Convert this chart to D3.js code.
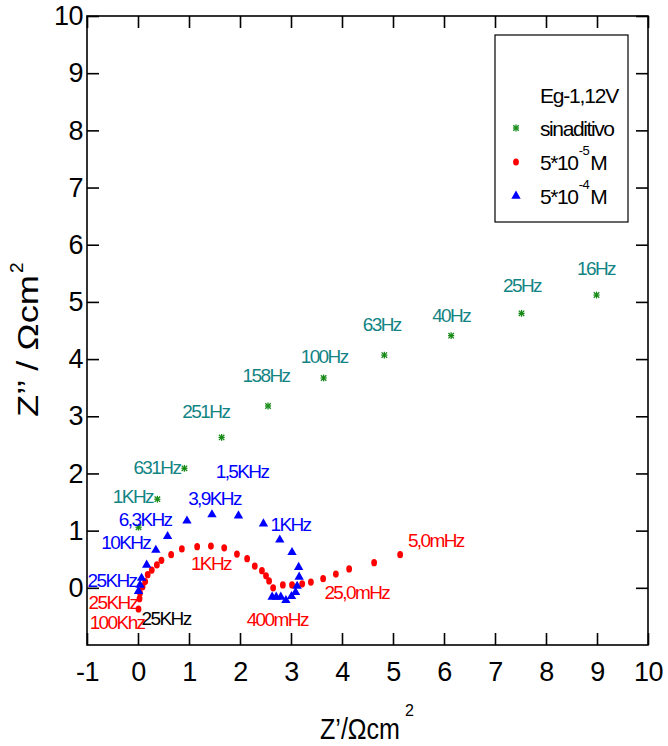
<!DOCTYPE html>
<html><head><meta charset="utf-8">
<script src="https://cdn.jsdelivr.net/npm/d3@7"></script>
<style>
body{margin:0;background:#fff}
text{font-family:"Liberation Sans",Arial,sans-serif}
</style></head>
<body><svg id="c" width="668" height="746"></svg>
<script>
// ---- data ----
const xTickValues = [-1,0,1,2,3,4,5,6,7,8,9,10];
const xTickLabels = ["-1","0","1","2","3","4","5","6","7","8","9","10"];
const yTickValues = [0,1,2,3,4,5,6,7,8,9,10];
const yTickLabels = ["0","1","2","3","4","5","6","7","8","9","10"];

// sin aditivo (green asterisks)
const sinX = [8.99,7.52,6.14,4.83,3.64,2.55,1.64,0.91,0.38,0.01];
const sinY = [5.12,4.80,4.41,4.07,3.67,3.18,2.63,2.09,1.55,1.06];

// 5*10^-5 M (red circles)
const m5X = [0.01,0.03,0.04,0.09,0.14,0.19,0.27,0.37,0.46,0.65,0.86,1.16,1.43,1.69,1.94,2.14,2.29,2.43,2.51,2.57,2.65,2.84,3.02,3.22,3.39,3.63,3.88,4.14,4.63,5.14];
const m5Y = [-0.37,-0.19,-0.09,0.02,0.11,0.23,0.31,0.40,0.48,0.58,0.68,0.72,0.73,0.70,0.59,0.51,0.38,0.30,0.21,0.12,0.00,0.05,0.05,0.07,0.10,0.16,0.24,0.33,0.44,0.58];

// 5*10^-4 M (blue triangles)
const m4X = [0.01,0.04,0.07,0.17,0.35,0.58,0.96,1.45,1.97,2.46,2.78,3.02,3.15,3.16,3.12,3.09,3.01,2.90,2.80,2.71,2.63];
const m4Y = [-0.06,0.05,0.17,0.40,0.66,0.90,1.17,1.28,1.26,1.12,0.84,0.62,0.36,0.19,0.03,-0.08,-0.15,-0.22,-0.16,-0.16,-0.16];

// frequency annotations
const labelText  = ["16Hz","25Hz","40Hz","63Hz","100Hz","158Hz","251Hz","631Hz","1KHz",
                    "1,5KHz","3,9KHz","6,3KHz","10KHz","25KHz","1KHz",
                    "1KHz","25KHz","100Khz","400mHz","25,0mHz","5,0mHz",
                    "25KHz"];
const labelX     = [8.98,7.53,6.14,4.78,3.65,2.51,1.33,0.37,-0.10,
                    2.04,1.50,0.14,-0.24,-0.51,2.99,
                    1.43,-0.49,-0.41,2.73,4.29,5.84,
                    0.55];
const labelY     = [5.59,5.28,4.77,4.60,4.04,3.71,3.08,2.10,1.59,
                    2.03,1.57,1.19,0.79,0.12,1.10,
                    0.43,-0.26,-0.61,-0.56,-0.09,0.82,
                    -0.54];
const labelColor = ["#138484","#138484","#138484","#138484","#138484","#138484","#138484","#138484","#138484",
                    "#0000ff","#0000ff","#0000ff","#0000ff","#0000ff","#0000ff",
                    "#ff0000","#ff0000","#ff0000","#ff0000","#ff0000","#ff0000",
                    "#000000"];

const legendTitle = "Eg-1,12V";
const seriesNames = ["sinaditivo","5*10","5*10"];
const seriesExp = [null,"-5","-4"];

// ---- chart ----
const svg = d3.select("#c");
const x = d3.scaleLinear().domain([-1,10]).range([87,648]);
const y = d3.scaleLinear().domain([-1,10]).range([645,16]);

const axisFont = "27px";
const gB = svg.append("g").attr("transform",`translate(0,${y(-1)})`)
  .call(d3.axisBottom(x).tickValues(xTickValues).tickSize(-12).tickPadding(17)
    .tickFormat((d,i)=>xTickLabels[i]));
const gL = svg.append("g").attr("transform",`translate(${x(-1)},0)`)
  .call(d3.axisLeft(y).tickValues(yTickValues).tickSize(-12).tickPadding(4)
    .tickFormat((d,i)=>yTickLabels[i]));
const gT = svg.append("g").attr("transform",`translate(0,${y(10)})`)
  .call(d3.axisTop(x).tickValues(xTickValues).tickSize(-12).tickFormat(""));
const gR = svg.append("g").attr("transform",`translate(${x(10)},0)`)
  .call(d3.axisRight(y).tickValues(yTickValues).tickSize(-12).tickFormat(""));
[gB,gL,gT,gR].forEach(g=>{
  g.select(".domain").remove();
  g.selectAll(".tick line").attr("stroke","#000").attr("stroke-width",1.6);
  g.selectAll(".tick text").attr("font-size",axisFont).attr("fill","#000")
    .attr("font-family","'Liberation Sans',Arial,sans-serif").style("letter-spacing","-0.5px");
});
svg.append("rect").attr("x",x(-1)).attr("y",y(10)).attr("width",x(10)-x(-1)).attr("height",y(-1)-y(10))
  .attr("fill","none").attr("stroke","#000").attr("stroke-width",1.6);

// axis titles
const yt = svg.append("g").attr("transform",`translate(38,417) rotate(-90)`);
yt.append("text").attr("x",0).attr("y",0).attr("font-size","30px").attr("textLength",142)
  .attr("lengthAdjust","spacingAndGlyphs").text("Z\u2019\u2019 / \u03A9cm");
yt.append("text").attr("x",144).attr("y",-15).attr("font-size","19px").text("2");

const xt = svg.append("g").attr("transform",`translate(320,739)`);
xt.append("text").attr("x",0).attr("y",0).attr("font-size","29px").attr("textLength",80)
  .attr("lengthAdjust","spacingAndGlyphs").text("Z\u2019/\u03A9cm");
xt.append("text").attr("x",85).attr("y",-23).attr("font-size","16px").text("2");

// markers
function star(sel, cx, cy, s){
  const g = sel.append("g").attr("transform",`translate(${cx},${cy})`).attr("stroke","#168a16").attr("stroke-width",1.3);
  g.append("line").attr("x1",0).attr("y1",-s).attr("x2",0).attr("y2",s);
  g.append("line").attr("x1",-s*0.8).attr("y1",-s*0.8).attr("x2",s*0.8).attr("y2",s*0.8);
  g.append("line").attr("x1",-s*0.8).attr("y1",s*0.8).attr("x2",s*0.8).attr("y2",-s*0.8);
  g.append("line").attr("x1",-s*0.9).attr("y1",0).attr("x2",s*0.9).attr("y2",0);
}
const tri = d3.symbol().type(d3.symbolTriangle).size(38);

const gS = svg.append("g");
sinX.forEach((v,i)=>star(gS, x(v), y(sinY[i]), 3.4));

svg.append("g").selectAll("ellipse").data(m5X).join("ellipse")
  .attr("cx",(d)=>x(d)).attr("cy",(d,i)=>y(m5Y[i])).attr("rx",2.9).attr("ry",3.6).attr("fill","#ff0000");

svg.append("g").selectAll("path").data(m4X).join("path")
  .attr("d",tri).attr("transform",(d,i)=>`translate(${x(d)},${y(m4Y[i])})`).attr("fill","#0000ff");

// annotations
svg.append("g").selectAll("text").data(labelText).join("text")
  .attr("x",(d,i)=>x(labelX[i])).attr("y",(d,i)=>y(labelY[i]))
  .attr("text-anchor","middle").attr("dominant-baseline","central")
  .attr("font-size","19px").style("letter-spacing","-1.6px")
  .attr("fill",(d,i)=>labelColor[i]).text(d=>d);

// legend
const lg = svg.append("g");
lg.append("rect").attr("x",495).attr("y",35).attr("width",133).attr("height",187)
  .attr("fill","#fff").attr("stroke","#000").attr("stroke-width",1.2);
const legY = [95,128,162,196];
lg.append("text").attr("x",540).attr("y",legY[0]).attr("dominant-baseline","central")
  .attr("font-size","21px").style("letter-spacing","-1.2px").text(legendTitle);
seriesNames.forEach((n,i)=>{
  const t = lg.append("text").attr("x",540).attr("y",legY[i+1]).attr("dominant-baseline","central")
    .attr("font-size","21px").style("letter-spacing","-1.4px");
  t.append("tspan").style("letter-spacing","-1.4px").text(n);
  if(seriesExp[i]){
    t.append("tspan").attr("font-size","13px").style("letter-spacing","-0.5px").attr("dx",1).attr("dy",-12).text(seriesExp[i]);
    t.append("tspan").attr("font-size","21px").style("letter-spacing","-1.4px").attr("dx",1).attr("dy",12).text("M");
  }
});
star(lg, 516, legY[1], 3.4);
lg.append("ellipse").attr("cx",516).attr("cy",legY[2]).attr("rx",2.9).attr("ry",3.6).attr("fill","#ff0000");
lg.append("path").attr("d",tri).attr("transform",`translate(516,${legY[3]})`).attr("fill","#0000ff");
</script></body></html>
